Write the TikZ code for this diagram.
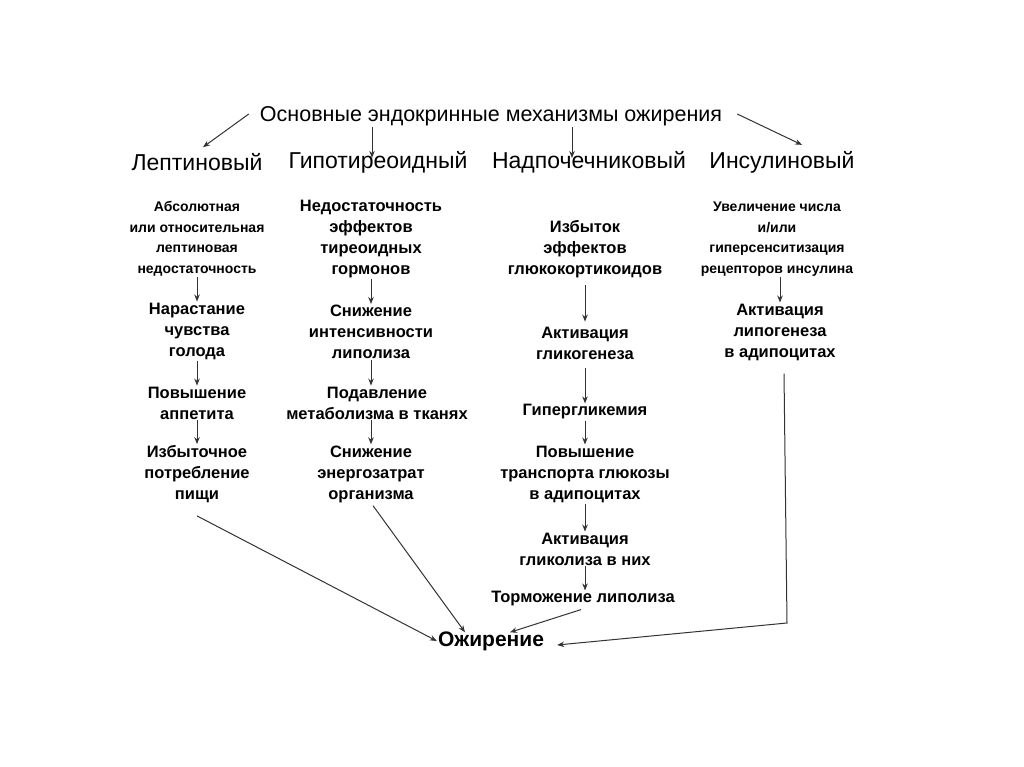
\documentclass[tikz,border=0pt]{standalone}
\usepackage{fontspec}
\setmainfont{Liberation Sans}
\usetikzlibrary{arrows.meta}
\begin{document}
\begin{tikzpicture}[x=1pt,y=-1pt,
  every node/.style={inner sep=1pt,text=black},
  big/.style={font=\fontsize{23}{27}\selectfont},
  ttl/.style={font=\fontsize{21.5}{26}\selectfont},
  sm/.style={align=center,font=\fontsize{14}{20.5}\selectfont\bfseries},
  md/.style={align=center,font=\fontsize{16.5}{21}\selectfont\bfseries},
  arr/.style={draw=black!80,line width=1pt,-{Stealth[length=7pt,width=5.5pt]}},
  ln/.style={draw=black!80,line width=1pt}]
\useasboundingbox[fill=white] (0,0) rectangle (1024,767);

\node[ttl] (title) at (491,116) {Основные эндокринные механизмы ожирения};
\node[big] (lep) at (197,162) {Лептиновый};
\node[big] (gip) at (378,162) {Гипотиреоидный};
\node[big] (nad) at (589,162) {Надпочечниковый};
\node[big] (ins) at (782,162) {Инсулиновый};

\node[sm] (l1) at (197,239) {Абсолютная\\или относительная\\лептиновая\\недостаточность};
\node[md] (l2) at (197,331) {Нарастание\\чувства\\голода};
\node[md] (l3) at (197,403) {Повышение\\аппетита};
\node[md] (l4) at (197,474) {Избыточное\\потребление\\пищи};

\node[md] (t1) at (371,239) {Недостаточность\\эффектов\\тиреоидных\\гормонов};
\node[md] (t2) at (371,332) {Снижение\\интенсивности\\липолиза};
\node[md] (t3) at (377,403) {Подавление\\метаболизма в тканях};
\node[md] (t4) at (371,474) {Снижение\\энергозатрат\\организма};

\node[md] (a1) at (585,249) {Избыток\\эффектов\\глюкокортикоидов};
\node[md] (a2) at (585,343) {Активация\\гликогенеза};
\node[md] (a3) at (585,412) {Гипергликемия};
\node[md] (a4) at (585,474) {Повышение\\транспорта глюкозы\\в адипоцитах};
\node[md] (a5) at (585,549) {Активация\\гликолиза в них};
\node[md] (a6) at (583,599) {Торможение липолиза};

\node[sm] (i1) at (777,239) {Увеличение числа\\и/или\\гиперсенситизация\\рецепторов инсулина};
\node[md] (i2) at (780,332) {Активация\\липогенеза\\в адипоцитах};

\node[font=\fontsize{21}{25}\selectfont\bfseries] (ob) at (491,641) {Ожирение};

% top arrows
\draw[arr] ([xshift=-10pt,yshift=2pt]title.west) -- ([xshift=6pt,yshift=5pt]lep.north);
\draw[arr] ([xshift=-6pt]gip.north |- title.south) -- ([xshift=-6pt,yshift=-8pt]gip.north);
\draw[arr] ([xshift=-17pt]nad.north |- title.south) -- ([xshift=-17pt,yshift=-8pt]nad.north);
\draw[arr] ([xshift=14pt,yshift=2pt]title.east) -- ([xshift=20pt,yshift=5pt]ins.north);

% leptin chain
\draw[arr] (l1.south) -- (l2.north);
\draw[arr] (l2.south) -- (l3.north);
\draw[arr] (l3.south) -- (l4.north);
% thyroid chain
\draw[arr] (t1.south) -- (t2.north);
\draw[arr] (t2.south) -- (t2.south |- t3.north);
\draw[arr] (t3.south -| t4.north) -- (t4.north);
% adrenal chain
\draw[arr] ([yshift=-6pt]a1.south) -- ([yshift=4pt]a2.north);
\draw[arr] ([yshift=-8pt]a2.south) -- (a3.north);
\draw[arr] (a3.south) -- (a4.north);
\draw[arr] (a4.south) -- (a5.north);
\draw[arr] (a5.south) -- (a5.south |- a6.north);
% insulin chain
\draw[arr] (i1.south -| i2.north) -- (i2.north);

% to obesity
\draw[arr] ([yshift=-12pt]l4.south) -- (ob.west);
\draw[arr] ([xshift=2pt,yshift=-2pt]t4.south) -- ([xshift=-26pt,yshift=-2pt]ob.north);
\draw[arr] ([xshift=-2pt,yshift=-2pt]a6.south) -- ([xshift=19pt,yshift=-2pt]ob.north);
\coordinate (c4) at (787,623);
\draw[arr] ([xshift=4pt,yshift=-12pt]i2.south) -- (c4) -- ([xshift=12pt,yshift=-4pt]ob.east);
\end{tikzpicture}
\end{document}
